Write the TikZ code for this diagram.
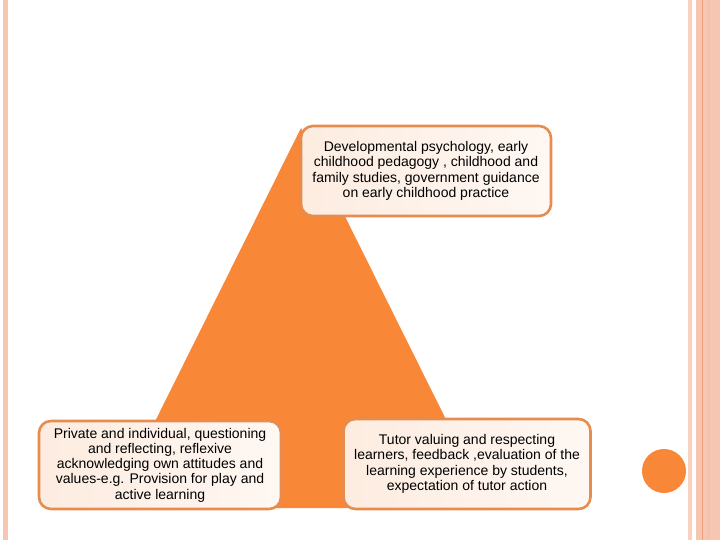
\documentclass[tikz,border=0pt]{standalone}
\usepackage{fontspec}
\setmainfont{Liberation Sans}
\definecolor{triorange}{RGB}{248,135,55}
\definecolor{boxline}{RGB}{230,140,78}
\definecolor{boxfill}{RGB}{253,236,224}
\definecolor{stripe}{RGB}{247,198,178}
\definecolor{stripelight}{RGB}{250,208,190}
\definecolor{stripeline}{RGB}{238,160,120}
\begin{document}
\begin{tikzpicture}[x=1pt,y=-1pt,
  infobox/.style={draw=boxline, line width=2.6pt, rounded corners=12pt,
    left color=boxfill, right color=white!60!boxfill, align=center,
    font=\fontsize{14}{15.3}\selectfont, inner sep=0pt}]
\useasboundingbox (0,0) rectangle (720,540);
\fill[white] (0,0) rectangle (720,540);
% decorative stripes
\fill[stripe] (3,0) rectangle (8,540);
\fill[stripelight] (688,0) rectangle (692,540);
\fill[stripe] (696,0) rectangle (720,540);
\draw[stripeline, line width=0.8pt] (702.5,0) -- (702.5,540);
\fill[stripe!80!boxline, opacity=0.35] (707,0) rectangle (710,540);
% triangle
\coordinate (apex) at (301,128);
\coordinate (bl) at (112,508);
\coordinate (br) at (490,508);
\fill[triorange] (apex) -- (bl) -- (br) -- cycle;
% boxes
\node[infobox, minimum width=250pt, minimum height=90pt] (top) at (426,171)
  {Developmental psychology, early\\childhood pedagogy , childhood and\\family studies, government guidance\\on early childhood practice};
\node[infobox, minimum width=242pt, minimum height=88pt] (left) at (160,465)
  {Private and individual, questioning\\and reflecting, reflexive\\acknowledging own attitudes and\\values-e.g. Provision for play and\\active learning};
\node[infobox, minimum width=247pt, minimum height=90pt] (right) at (467,464)
  {Tutor valuing and respecting\\learners, feedback ,evaluation of the\\learning experience by students,\\expectation of tutor action};
% circle
\fill[triorange] (664,471) circle (22);
\end{tikzpicture}
\end{document}
